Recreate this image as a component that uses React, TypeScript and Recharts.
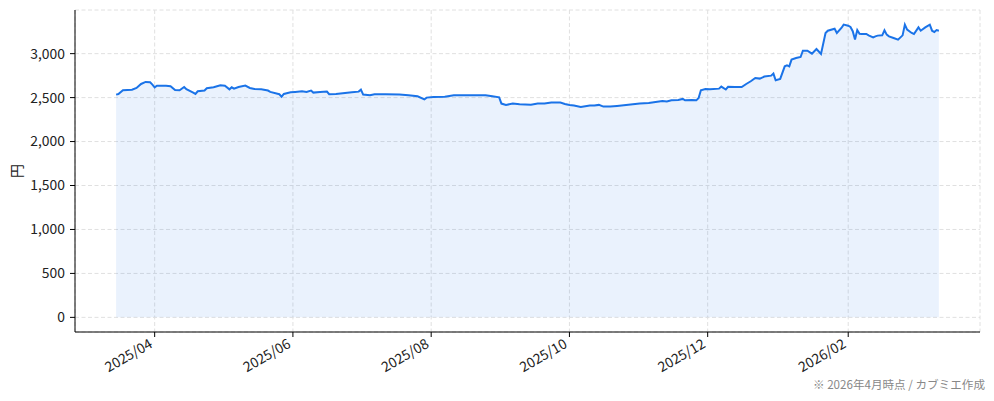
import { AreaChart, Area, XAxis, YAxis, CartesianGrid } from 'recharts';

// 終値（読み取り値）
const dates = [
  '2025-03-15', '2025-03-16', '2025-03-18', '2025-03-22', '2025-03-24', '2025-03-26', '2025-03-28', '2025-03-30',
  '2025-03-31', '2025-04-01', '2025-04-02', '2025-04-06', '2025-04-08', '2025-04-10', '2025-04-12', '2025-04-14',
  '2025-04-15', '2025-04-18', '2025-04-19', '2025-04-20', '2025-04-23', '2025-04-24', '2025-04-27', '2025-04-30',
  '2025-05-02', '2025-05-04', '2025-05-05', '2025-05-06', '2025-05-08', '2025-05-11', '2025-05-13', '2025-05-15',
  '2025-05-18', '2025-05-21', '2025-05-22', '2025-05-26', '2025-05-27', '2025-05-28', '2025-05-31', '2025-06-02',
  '2025-06-05', '2025-06-07', '2025-06-09', '2025-06-10', '2025-06-13', '2025-06-16', '2025-06-17', '2025-06-20',
  '2025-06-24', '2025-06-27', '2025-06-30', '2025-07-01', '2025-07-02', '2025-07-05', '2025-07-07', '2025-07-12',
  '2025-07-18', '2025-07-22', '2025-07-26', '2025-07-29', '2025-07-30', '2025-08-02', '2025-08-07', '2025-08-11',
  '2025-08-18', '2025-08-25', '2025-08-28', '2025-08-31', '2025-09-01', '2025-09-03', '2025-09-06', '2025-09-09',
  '2025-09-14', '2025-09-17', '2025-09-20', '2025-09-23', '2025-09-27', '2025-09-29', '2025-10-01', '2025-10-03',
  '2025-10-06', '2025-10-08', '2025-10-10', '2025-10-12', '2025-10-14', '2025-10-16', '2025-10-19', '2025-10-22',
  '2025-10-25', '2025-10-29', '2025-11-01', '2025-11-05', '2025-11-08', '2025-11-11', '2025-11-13', '2025-11-15',
  '2025-11-18', '2025-11-20', '2025-11-21', '2025-11-24', '2025-11-26', '2025-11-27', '2025-11-28', '2025-11-30',
  '2025-12-02', '2025-12-06', '2025-12-07', '2025-12-09', '2025-12-10', '2025-12-13', '2025-12-16', '2025-12-18',
  '2025-12-20', '2025-12-22', '2025-12-24', '2025-12-26', '2025-12-29', '2025-12-30', '2025-12-31', '2026-01-02',
  '2026-01-04', '2026-01-05', '2026-01-06', '2026-01-07', '2026-01-09', '2026-01-11', '2026-01-12', '2026-01-14',
  '2026-01-16', '2026-01-18', '2026-01-20', '2026-01-22', '2026-01-23', '2026-01-26', '2026-01-27', '2026-01-29',
  '2026-01-30', '2026-02-01', '2026-02-02', '2026-02-03', '2026-02-04', '2026-02-05', '2026-02-06', '2026-02-07',
  '2026-02-09', '2026-02-10', '2026-02-12', '2026-02-13', '2026-02-14', '2026-02-16', '2026-02-17', '2026-02-18',
  '2026-02-19', '2026-02-21', '2026-02-23', '2026-02-25', '2026-02-26', '2026-02-27', '2026-03-01', '2026-03-02',
  '2026-03-04', '2026-03-05', '2026-03-07', '2026-03-09', '2026-03-10', '2026-03-11', '2026-03-12', '2026-03-13',
];

const closes = [
  2534, 2540, 2583, 2590, 2610, 2655, 2678, 2674,
  2648, 2617, 2636, 2636, 2629, 2587, 2583, 2621,
  2595, 2557, 2542, 2572, 2580, 2606, 2617, 2640,
  2636, 2594, 2617, 2602, 2621, 2636, 2610, 2598,
  2594, 2580, 2565, 2538, 2511, 2542, 2560, 2565,
  2572, 2565, 2580, 2557, 2565, 2568, 2538, 2542,
  2553, 2560, 2568, 2590, 2534, 2526, 2538, 2538,
  2534, 2526, 2515, 2480, 2500, 2508, 2511, 2526,
  2526, 2526, 2515, 2503, 2432, 2417, 2432, 2424,
  2420, 2432, 2432, 2443, 2443, 2428, 2415, 2410,
  2394, 2401, 2409, 2409, 2417, 2398, 2398, 2405,
  2413, 2424, 2432, 2439, 2450, 2462, 2455, 2469,
  2474, 2485, 2469, 2474, 2469, 2496, 2583, 2598,
  2594, 2602, 2625, 2592, 2622, 2620, 2620, 2655,
  2686, 2723, 2716, 2739, 2750, 2773, 2697, 2712,
  2856, 2867, 2856, 2932, 2951, 2962, 3034, 3034,
  3000, 3053, 2996, 3235, 3261, 3284, 3235, 3292,
  3330, 3318, 3303, 3255, 3160, 3268, 3227, 3224,
  3224, 3208, 3185, 3197, 3205, 3208, 3265, 3216,
  3197, 3178, 3159, 3208, 3330, 3273, 3235, 3224,
  3299, 3261, 3299, 3330, 3261, 3246, 3269, 3261,
];

const monthTicks = ['2025-04-01', '2025-06-01', '2025-08-01', '2025-10-01', '2025-12-01', '2026-02-01'];
const yTicks = [0, 500, 1000, 1500, 2000, 2500, 3000];

const FONT = '"Noto Sans CJK JP", "Noto Sans", sans-serif';
const toTime = (d: string) => Date.parse(d + 'T00:00:00Z');

const chartData = dates.map((d, i) => ({ t: toTime(d), close: closes[i] }));

// matplotlib 風の 5% 余白
const tMin = chartData[0].t;
const tMax = chartData[chartData.length - 1].t;
const xPad = (tMax - tMin) * 0.05;
const yMax = Math.max(...closes);
const xDomain = [tMin - xPad, tMax + xPad];
const yDomain = [-yMax * 0.05, yMax * 1.05];

const fmtMonth = (t: number) => {
  const d = new Date(t);
  return `${d.getUTCFullYear()}/${String(d.getUTCMonth() + 1).padStart(2, '0')}`;
};

// eslint-disable-next-line @typescript-eslint/no-explicit-any
function DateTick({ x, y, payload }: any) {
  return (
    <g transform={`translate(${x},${y})`}>
      <text
        x={-5}
        y={6}
        transform="rotate(-30)"
        textAnchor="end"
        fontSize={13.9}
        fontFamily={FONT}
        fill="#222"
      >
        {fmtMonth(payload.value)}
      </text>
    </g>
  );
}

// eslint-disable-next-line @typescript-eslint/no-explicit-any
function YTitle({ viewBox }: any) {
  const cx = 16;
  const cy = viewBox.y + viewBox.height / 2;
  return (
    <text
      x={cx}
      y={cy}
      transform={`rotate(-90, ${cx}, ${cy})`}
      textAnchor="middle"
      dominantBaseline="central"
      fontSize={13.9}
      fontFamily={FONT}
      fill="#222"
    >
      円
    </text>
  );
}

export default function App() {
  return (
    <div
      style={{
        position: 'absolute',
        left: 0,
        top: 0,
        width: 994,
        height: 401,
        background: '#fff',
        fontFamily: FONT,
      }}
    >
      <AreaChart
        width={994}
        height={401}
        data={chartData}
        margin={{ top: 10, right: 14, bottom: 9, left: 0 }}
      >
        <CartesianGrid stroke="#e0e0e0" strokeDasharray="4 2.5" />
        <XAxis
          dataKey="t"
          type="number"
          scale="linear"
          domain={xDomain}
          ticks={monthTicks.map(toTime)}
          interval={0}
          height={60}
          tickSize={5}
          axisLine={{ stroke: '#000' }}
          tickLine={{ stroke: '#000' }}
          tick={<DateTick />}
        />
        <YAxis
          type="number"
          width={75}
          domain={yDomain}
          ticks={yTicks}
          interval={0}
          tickSize={5}
          tickMargin={5}
          axisLine={{ stroke: '#000' }}
          tickLine={{ stroke: '#000' }}
          tick={{ fontSize: 13.9, fill: '#222', fontFamily: FONT }}
          tickFormatter={(v: number) => v.toLocaleString('en-US')}
          label={<YTitle />}
        />
        <Area
          type="linear"
          dataKey="close"
          stroke="#1a73e8"
          strokeWidth={2}
          fill="#1a73e8"
          fillOpacity={0.09}
          baseValue={0}
          dot={false}
          activeDot={false}
          isAnimationActive={false}
        />
      </AreaChart>
      <div
        style={{
          position: 'absolute',
          right: 9,
          top: 376,
          fontSize: 11.6,
          color: '#888',
          whiteSpace: 'nowrap',
        }}
      >
        ※ 2026年4月時点 / カブミエ作成
      </div>
    </div>
  );
}
